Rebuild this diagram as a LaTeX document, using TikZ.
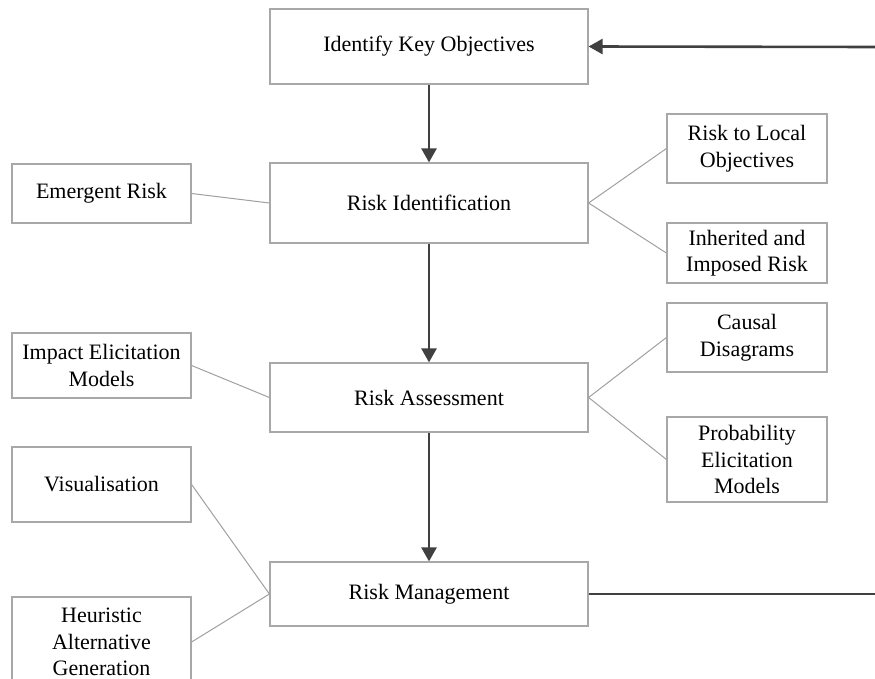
\documentclass[tikz,border=0pt]{standalone}
\usepackage{fontspec}
\setmainfont{Liberation Serif}
\usetikzlibrary{arrows.meta}
\definecolor{boxgray}{HTML}{A8A8A8}
\definecolor{linegray}{HTML}{A0A0A0}
\definecolor{flowgray}{HTML}{404040}
\begin{document}
\begin{tikzpicture}[
			x=1pt, y=-1pt,
			every node/.style={draw=boxgray, line width=1.2pt, fill=white, inner sep=0pt, align=center, font=\fontsize{22}{26.5}\selectfont},
			stage/.style={minimum width=318pt},
			side/.style={minimum width=179pt},
			sub/.style={minimum width=160pt},
			flow/.style={draw=flowgray, line width=2.6pt, -{Triangle[length=14pt, width=15pt]}},
			link/.style={draw=linegray, line width=1pt}
			]
			\useasboundingbox (0,0) rectangle (875,679);
			\node[stage, minimum height=75pt] (obj) at (429,46.5) {Identify Key Objectives};
			\node[stage, minimum height=80pt] (ident) at (429,203) {Risk Identification};
			\node[stage, minimum height=69pt] (assess) at (429,397.5) {Risk Assessment};
			\node[stage, minimum height=64pt] (manage) at (429,594) {Risk Management};
			\node[side, minimum height=59pt] (emerg) at (101.5,193.5) {Emergent Risk};
			\node[side, minimum height=65pt] (impact) at (101.5,365.5) {Impact Elicitation\\Models};
			\node[side, minimum height=75pt] (visual) at (101.5,484.5) {Visualisation};
			\node[side, minimum height=90pt] (heur) at (101.5,642) {Heuristic\\Alternative\\Generation};
			\node[sub, minimum height=69pt] (local) at (747,148.5) {Risk to Local\\Objectives};
			\node[sub, minimum height=60pt] (inher) at (747,253) {Inherited and\\Imposed Risk};
			\node[sub, minimum height=69pt] (causal) at (747,337.5) {Causal\\Disagrams};
			\node[sub, minimum height=85pt] (prob) at (747,459.5) {Probability\\Elicitation\\Models};
			\coordinate (backin) at (875,47);
			\coordinate (backout) at (875,594);
			\draw[flow] (obj) -- (ident);
			\draw[flow] (ident) -- (assess);
			\draw[flow] (assess) -- (manage);
			\draw[flow] (backin) -- (obj.east);
			\draw[flow, -] (manage.east) -- (backout);
			\draw[link] (emerg.east) -- (ident.west);
			\draw[link] (ident.east) -- (local.west);
			\draw[link] (ident.east) -- (inher.west);
			\draw[link] (impact.east) -- (assess.west);
			\draw[link] (assess.east) -- (causal.west);
			\draw[link] (assess.east) -- (prob.west);
			\draw[link] (visual.east) -- (manage.west);
			\draw[link] (heur.east) -- (manage.west);
		\end{tikzpicture}
\end{document}
